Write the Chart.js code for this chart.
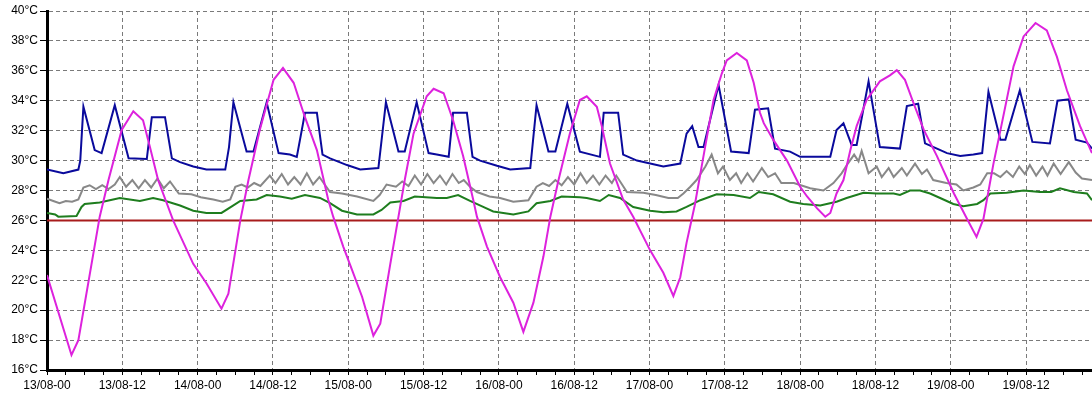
<!DOCTYPE html>
<html>
<head>
<meta charset="utf-8">
<title>Temperatures 13/08 - 19/08</title>
<script src="https://cdn.jsdelivr.net/npm/chart.js@4.4.1/dist/chart.umd.min.js"></script>
<style>
  html, body { margin: 0; padding: 0; background: #fff; }
  #wrap { width: 1092px; height: 399px; }
</style>
</head>
<body>
<div id="wrap"><canvas id="tempChart" width="1092" height="399"></canvas></div>
<script>
// dates shown under the major ticks (every 12 h starting 13/08 00:00)
const dayLabels = ['13/08', '14/08', '15/08', '16/08', '17/08', '18/08', '19/08', '20/08'];

// outside air (magenta), hours since 13/08 00:00
const outsideHours = [0, 3.9, 5, 8.4, 9.8, 11.9, 13.75, 15.3, 16.4, 17.7, 20.1, 23.3, 25.4, 27.8, 28.9, 30.8, 32.1, 33.9, 36.1, 37.6,
  39.3, 41.1, 43, 44.8, 45.6, 47.2, 48.6, 50.2, 52, 53.1, 54.7, 56, 57, 58.4, 60.5, 61.6, 63.2, 64.7, 66.3, 67.9,
  68.5, 70.1, 72.2, 74.3, 75.9, 77.5, 79.1, 80.2, 81.5, 83.3, 84.9, 86, 87.6, 88.4, 89.7, 91.8, 93.4, 96.1, 98.2, 99.8,
  100.9, 101.9, 103.2, 104.3, 106.2, 107.5, 108.3, 109.9, 111.5, 112.6, 113.6, 114.2, 115.7, 117.9, 120, 121.1, 122.7, 124, 124.8, 125.8,
  126.9, 128, 129, 130.6, 132.7, 134.3, 135.4, 136.7, 138.1, 139.7, 141.8, 144.5, 146.6, 148.1, 149.2, 150.8, 151.9, 154, 155.6, 157.5,
  159.3, 160.9, 162.5, 164.6, 166.5];
const outsideTemps = [22.35, 17.0, 18.0, 26.25, 28.7, 32.05, 33.3, 32.7, 30.9, 28.7, 26.0, 23.1, 21.8, 20.1, 21.1, 26.0, 28.7, 32.05, 35.4, 36.2,
  35.2, 32.9, 30.7, 27.4, 26.25, 24.25, 22.7, 20.9, 18.3, 19.1, 23.1, 26.25, 28.7, 31.8, 34.3, 34.8, 34.5, 32.7, 30.3, 27.4,
  26.25, 24.25, 22.2, 20.5, 18.55, 20.5, 23.6, 26.25, 28.7, 31.8, 34.05, 34.3, 33.6, 32.3, 29.8, 27.4, 26.25, 24.0, 22.5, 20.95,
  22.2, 24.5, 27.0, 29.6, 34.05, 35.8, 36.7, 37.2, 36.7, 35.2, 33.2, 32.5, 31.4, 30.0, 28.25, 27.6, 26.8, 26.25, 26.5, 27.8,
  28.7, 30.7, 32.3, 34.05, 35.3, 35.7, 36.05, 35.4, 33.8, 32.05, 30.3, 27.8, 26.1, 24.9, 26.1, 29.8, 32.0, 36.3, 38.3, 39.2,
  38.7, 36.95, 34.7, 32.3, 30.5];

// upper sensor (dark blue)
const upperHours = [0, 2.6, 5, 5.3, 5.8, 7.6, 8.7, 10.8, 13, 15.9, 16.7, 18.8, 19.9, 21.2, 23.3, 25.4, 28.4, 29, 29.7, 31.8,
  32.9, 35, 36.9, 38.7, 39.8, 40.8, 41.1, 43, 43.9, 45.1, 47.8, 49.9, 52.8, 54, 56, 57, 58.9, 60.8, 62.1, 64,
  64.7, 66.9, 67.8, 69, 71.7, 73.8, 77, 78, 79.9, 81, 82.9, 84.9, 88.1, 88.7, 91, 91.8, 94, 96.1, 98.2, 100.9,
  101.9, 102.8, 103.8, 104.6, 107, 109, 111.8, 112.8, 114.9, 116, 118.4, 120, 124.8, 125.8, 126.9, 128.2, 129, 130.9, 132.7, 135.9,
  137, 138.8, 139.9, 141.8, 143.4, 145.5, 147.6, 149, 150, 151.9, 152.7, 155, 157, 159.8, 161, 162.8, 163.9, 165.7, 166.5];
const upperTemps = [29.4, 29.15, 29.4, 30.0, 33.6, 30.7, 30.5, 33.7, 30.15, 30.1, 32.9, 32.9, 30.15, 29.9, 29.6, 29.4, 29.4, 30.9, 33.9, 30.6,
  30.6, 33.9, 30.5, 30.4, 30.25, 32.5, 33.2, 33.2, 30.4, 30.15, 29.7, 29.4, 29.5, 33.9, 30.6, 30.6, 33.9, 30.5, 30.4, 30.25,
  33.2, 33.2, 30.25, 30.0, 29.65, 29.4, 29.5, 33.7, 30.6, 30.6, 33.8, 30.6, 30.25, 33.2, 33.2, 30.4, 30.0, 29.8, 29.6, 29.8,
  31.8, 32.3, 30.9, 30.9, 35.05, 30.6, 30.5, 33.4, 33.5, 30.8, 30.6, 30.25, 30.25, 32.05, 32.5, 31.05, 31.05, 35.3, 30.9, 30.8,
  33.65, 33.8, 31.15, 30.8, 30.5, 30.3, 30.4, 30.5, 34.6, 31.4, 31.4, 34.7, 31.25, 31.15, 34.0, 34.1, 31.4, 31.2, 30.8];

// middle sensor (grey)
const middleHours = [0, 1, 2, 3, 4, 5, 5.8, 6.8, 7.8, 8.8, 9.8, 10.8, 11.6, 12.6, 13.6, 14.6, 15.6, 16.6, 17.6, 18.6,
  19.6, 21, 23, 24.5, 26.5, 28, 29.2, 30, 31, 32, 33, 34, 35.5, 36.4, 37.4, 38.4, 39.4, 40.4, 41.4, 42.4,
  43.4, 45.1, 47, 49.4, 52, 53, 54.1, 55.6, 56.6, 57.6, 58.6, 59.6, 60.6, 61.6, 62.6, 63.6, 64.6, 65.6, 66.4, 67.4,
  68.5, 70.5, 72.2, 74.3, 76.7, 78, 79, 80, 81, 82, 83, 84, 85, 86, 87, 88, 89, 90, 90.7, 92.4,
  95, 97, 99, 100.5, 101.4, 102.5, 103.5, 104.9, 105.9, 106.9, 107.7, 108.8, 109.8, 110.6, 111.6, 112.5, 113.9, 114.9, 116, 117,
  119, 121.6, 123.7, 125.3, 126.6, 127.6, 128.6, 129.3, 129.8, 130.9, 132.2, 133, 134.1, 134.9, 136.2, 137, 138.3, 139.4, 140.2, 141.2,
  143.3, 144.9, 146, 147.6, 148.7, 149.8, 150.9, 151.9, 152.9, 153.9, 154.9, 155.8, 156.6, 157.6, 158.6, 159.4, 160.4, 161.5, 162.8, 163.9,
  164.9, 166.5];
const middleTemps = [27.45, 27.3, 27.15, 27.3, 27.25, 27.4, 28.2, 28.35, 28.1, 28.35, 28.1, 28.4, 28.9, 28.25, 28.7, 28.15, 28.7, 28.2, 28.8, 28.15,
  28.6, 27.8, 27.75, 27.55, 27.4, 27.25, 27.4, 28.25, 28.4, 28.2, 28.5, 28.3, 29.0, 28.5, 29.1, 28.4, 28.9, 28.4, 29.15, 28.4,
  28.9, 27.9, 27.8, 27.6, 27.3, 27.7, 28.4, 28.25, 28.6, 28.3, 29.0, 28.4, 29.1, 28.5, 29.0, 28.4, 29.1, 28.5, 28.7, 28.25,
  27.9, 27.6, 27.5, 27.25, 27.35, 28.25, 28.5, 28.3, 28.7, 28.35, 28.9, 28.4, 29.15, 28.5, 29.0, 28.4, 29.0, 28.5, 29.0, 27.9,
  27.85, 27.7, 27.5, 27.5, 27.8, 28.25, 28.7, 29.6, 30.4, 29.15, 29.6, 28.7, 29.15, 28.5, 29.15, 28.6, 29.5, 28.9, 29.15, 28.5,
  28.5, 28.15, 28.0, 28.5, 29.15, 29.8, 30.4, 29.95, 30.65, 29.15, 29.6, 28.9, 29.5, 28.9, 29.5, 29.0, 29.8, 29.1, 29.4, 28.7,
  28.5, 28.4, 28.0, 28.2, 28.4, 29.15, 29.15, 28.9, 29.3, 28.9, 29.6, 29.1, 29.7, 29.0, 29.6, 29.0, 29.8, 29.1, 29.9, 29.2,
  28.8, 28.7];

// lower sensor (green)
const lowerHours = [0, 1.3, 1.8, 4.7, 5.5, 6, 8.4, 10, 11.6, 14.8, 16.9, 18.5, 21.2, 23.3, 25.4, 27.8, 29.7, 30.8, 33.4, 35,
  37.1, 39, 41.1, 43.5, 45.1, 47, 49.4, 52, 53.3, 54.7, 56.8, 58.6, 62.1, 63.7, 65.5, 67.4, 69.5, 71.1, 74.3, 76.7,
  78, 80.2, 82, 84.9, 86, 88.1, 89.5, 91.3, 93.4, 96.1, 98.2, 100.3, 101.9, 104.1, 106.7, 109.4, 112, 113.4, 115.7, 118.4,
  120.5, 123.2, 125.8, 127.4, 130.1, 132.2, 134.9, 135.9, 137.5, 139.1, 140.7, 142.3, 144.4, 146, 148.2, 149.2, 150.3, 152.9, 155.6, 158.2,
  160, 161.4, 163.6, 165.7, 166.5];
const lowerTemps = [26.5, 26.4, 26.25, 26.3, 26.9, 27.1, 27.2, 27.35, 27.5, 27.3, 27.5, 27.35, 27.0, 26.65, 26.5, 26.5, 27.0, 27.3, 27.4, 27.7,
  27.6, 27.45, 27.7, 27.5, 27.15, 26.65, 26.4, 26.4, 26.7, 27.2, 27.3, 27.6, 27.5, 27.5, 27.7, 27.3, 26.9, 26.6, 26.4, 26.6,
  27.15, 27.3, 27.6, 27.55, 27.5, 27.3, 27.7, 27.5, 26.9, 26.65, 26.55, 26.6, 26.9, 27.35, 27.75, 27.7, 27.5, 27.9, 27.75, 27.25,
  27.1, 27.0, 27.25, 27.5, 27.85, 27.8, 27.8, 27.7, 28.0, 28.0, 27.8, 27.5, 27.1, 26.95, 27.1, 27.35, 27.8, 27.85, 28.0, 27.9,
  27.9, 28.15, 27.9, 27.8, 27.35];

// setpoint (red)
const setpointHours = [0, 166.5];
const setpointTemps = [26.0, 26.0];

function toPoints(hours, temps) {
  return hours.map((h, i) => ({ x: h, y: temps[i] }));
}

function tickLabel(value) {
  if (value % 12 !== 0) return '';
  const day = dayLabels[Math.floor(value / 24)];
  return day + '-' + (value % 24 === 0 ? '00' : '12');
}

const labelFont = { family: '"Liberation Sans", Arial, sans-serif', size: 12 };

const lineStyle = (color) => ({
  borderColor: color,
  backgroundColor: color,
  borderWidth: 2,
  pointRadius: 0,
  tension: 0,
  fill: false
});

new Chart(document.getElementById('tempChart'), {
  type: 'line',
  data: {
    datasets: [
      Object.assign({ label: 'Outside', data: toPoints(outsideHours, outsideTemps) }, lineStyle('#dd22dd')),
      Object.assign({ label: 'Upper', data: toPoints(upperHours, upperTemps) }, lineStyle('#0a0a9c')),
      Object.assign({ label: 'Middle', data: toPoints(middleHours, middleTemps) }, lineStyle('#888888')),
      Object.assign({ label: 'Lower', data: toPoints(lowerHours, lowerTemps) }, lineStyle('#1e7d1e')),
      Object.assign({ label: 'Setpoint', data: toPoints(setpointHours, setpointTemps) }, lineStyle('#a81c1c'))
    ]
  },
  options: {
    responsive: false,
    animation: false,
    events: [],
    layout: { padding: { top: 11, right: 0, bottom: 0, left: 0 } },
    plugins: {
      legend: { display: false },
      tooltip: { enabled: false }
    },
    scales: {
      x: {
        type: 'linear',
        min: 0,
        max: 166.5,
        afterBuildTicks: function(scale) {
          scale.ticks = scale.ticks.filter(t => t.value % 3 === 0);
        },
        afterFit: function(scale) { scale.height = 29; },
        ticks: {
          stepSize: 3,
          autoSkip: false,
          includeBounds: false,
          maxRotation: 0,
          color: '#000',
          font: labelFont,
          padding: 3,
          callback: tickLabel
        },
        grid: {
          color: ctx => (ctx.tick && ctx.tick.value % 12 === 0) ? '#7a7a7a' : 'rgba(0,0,0,0)',
          tickColor: '#000',
          tickLength: 5,
          lineWidth: 1
        },
        border: { display: true, color: '#000', width: 3, dash: [4, 3] }
      },
      y: {
        min: 16,
        max: 40,
        afterFit: function(scale) { scale.width = 47; },
        ticks: {
          stepSize: 2,
          color: '#000',
          font: labelFont,
          padding: 2,
          callback: v => v + '°C'
        },
        grid: {
          color: '#7a7a7a',
          tickColor: '#000',
          tickLength: 7,
          lineWidth: 1
        },
        border: { display: true, color: '#000', width: 3, dash: [4, 3] }
      }
    }
  }
});
</script>
</body>
</html>
